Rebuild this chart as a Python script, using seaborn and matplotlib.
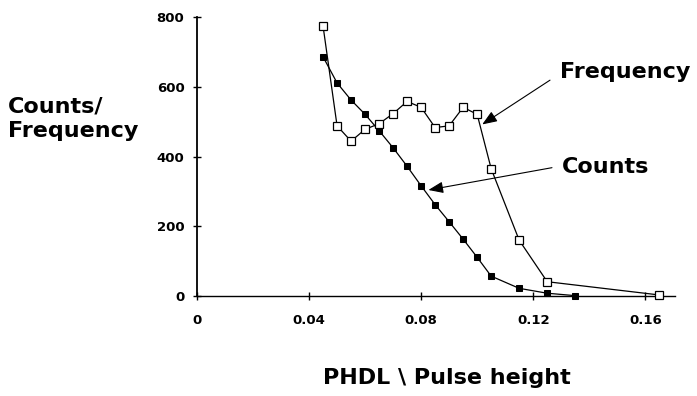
import numpy as np
import pandas as pd
import seaborn as sns
import matplotlib.pyplot as plt

# Values
freq_x = [0.045, 0.050, 0.055, 0.060, 0.065, 0.070, 0.075, 0.080, 0.085, 0.090,
          0.095, 0.100, 0.105, 0.115, 0.125, 0.165]
freq_y = [774, 488, 444, 478, 494, 523, 558, 541, 483, 488,
          541, 521, 365, 160, 41, 3]

counts_x = [0.045, 0.050, 0.055, 0.060, 0.065, 0.070, 0.075, 0.080, 0.085, 0.090,
            0.095, 0.100, 0.105, 0.115, 0.125, 0.135]
counts_y = [686, 611, 562, 521, 474, 425, 372, 316, 262, 213,
            163, 111, 57, 22, 8, 1]

x_ticks = [0, 0.04, 0.08, 0.12, 0.16]
x_tick_labels = ['0', '0.04', '0.08', '0.12', '0.16']
y_ticks = [0, 200, 400, 600, 800]

sns.set_style('white')
plt.rcParams['font.family'] = ['DejaVu Sans']
plt.rcParams['font.weight'] = 'bold'
plt.rcParams['text.color'] = 'black'

fig = plt.figure(figsize=(6.97, 3.96), dpi=100)
ax = fig.add_axes([0.2826, 0.2525, 0.6854, 0.7045])

df_freq = pd.DataFrame({'x': freq_x, 'y': freq_y})
df_counts = pd.DataFrame({'x': counts_x, 'y': counts_y})

sns.lineplot(data=df_counts, x='x', y='y', ax=ax, color='black', lw=0.9,
             marker='s', markersize=4.2, markerfacecolor='black',
             markeredgecolor='black', clip_on=False, zorder=3)
sns.lineplot(data=df_freq, x='x', y='y', ax=ax, color='black', lw=0.9,
             marker='s', markersize=5.2, markerfacecolor='white',
             markeredgecolor='black', markeredgewidth=0.9, clip_on=False, zorder=4)

ax.set_xlim(0, 0.1705)
ax.set_ylim(0, 800)
ax.set_xticks(x_ticks)
ax.set_xticklabels(x_tick_labels)
ax.set_yticks(y_ticks)
ax.tick_params(axis='both', direction='inout', length=6, width=1,
               labelsize=9.5, colors='black', bottom=True, left=True)
ax.tick_params(axis='x', pad=10)
ax.tick_params(axis='y', pad=6)
for lab in ax.get_xticklabels() + ax.get_yticklabels():
    lab.set_fontweight('bold')

sns.despine(ax=ax)
ax.spines['left'].set_linewidth(1.3)
ax.spines['bottom'].set_linewidth(1.0)
ax.spines['left'].set_color('black')
ax.spines['bottom'].set_color('black')

ax.set_xlabel('')
ax.set_ylabel('')
fig.text(0.012, 0.70, 'Counts/\nFrequency', fontsize=16, fontweight='bold',
         ha='left', va='center', linespacing=1.3, color='black')
fig.text(0.641, 0.045, 'PHDL \\ Pulse height', fontsize=16, fontweight='bold',
         ha='center', va='center', color='black')

arrow = dict(arrowstyle='-|>,head_length=0.9,head_width=0.35', color='black',
             lw=0.8, shrinkA=0, shrinkB=0)
ax.annotate('', xy=(0.1018, 492), xytext=(0.126, 619),
            arrowprops=arrow, annotation_clip=False)
ax.annotate('', xy=(0.0826, 304), xytext=(0.1267, 368),
            arrowprops=arrow, annotation_clip=False)
ax.text(0.1296, 642, 'Frequency', fontsize=16, fontweight='bold',
        va='center', ha='left', color='black', clip_on=False)
ax.text(0.1304, 370, 'Counts', fontsize=16, fontweight='bold',
        va='center', ha='left', color='black', clip_on=False)

fig.savefig('out.png', dpi=100)
